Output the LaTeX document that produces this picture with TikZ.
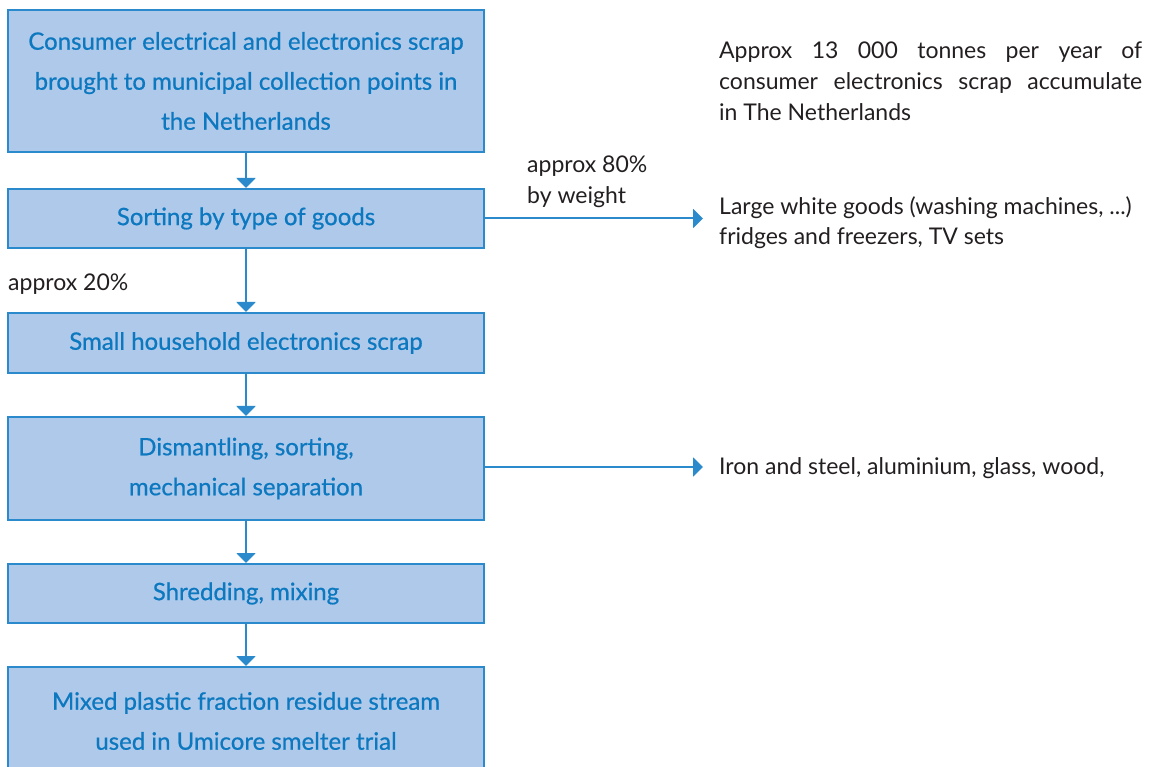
\documentclass[tikz,border=0pt]{standalone}
\usepackage{fontspec}
\setmainfont{Lato}
\newfontfamily\boxfont[FakeBold=0.6]{Lato}
\usetikzlibrary{arrows.meta}
\definecolor{boxfill}{HTML}{AFC9EA}
\definecolor{boxline}{HTML}{2A8ACB}
\definecolor{boxtext}{HTML}{0B78BF}
\definecolor{bodytext}{HTML}{231F20}
\begin{document}
\begin{tikzpicture}[x=1pt,y=-1pt,
  flowbox/.style={draw=boxline, line width=2pt, fill=boxfill, minimum width=476pt,
    inner sep=0pt, text=boxtext, align=center, font=\boxfont\fontsize{24}{40}\selectfont},
  arr/.style={draw=boxline, line width=2pt, -{Triangle[width=19pt,length=10pt]}},
  note/.style={inner sep=0pt, text=bodytext, font=\fontsize{23}{31}\selectfont, anchor=base west}]
\useasboundingbox (0,0) rectangle (1152,767);
\node[flowbox, minimum height=142pt] (b1) at (246,81)
  {Consumer electrical and electronics scrap\\brought to municipal collection points in\\the Netherlands};
\node[flowbox, minimum height=59pt] (b2) at (246,218.5) {Sorting by type of goods};
\node[flowbox, minimum height=60pt] (b3) at (246,343) {Small household electronics scrap};
\node[flowbox, minimum height=103pt] (b4) at (246,468.5) {Dismantling, sorting,\\mechanical separation};
\node[flowbox, minimum height=59pt] (b5) at (246,593.5) {Shredding, mixing};
\node[flowbox, minimum height=108pt] (b6) at (246,721)
  {Mixed plastic fraction residue stream\\used in Umicore smelter trial};
\draw[arr] (b1) -- (b2);
\draw[arr] (b2) -- (b3);
\draw[arr] (b3) -- (b4);
\draw[arr] (b4) -- (b5);
\draw[arr] (b5) -- (b6);
\coordinate (e2) at (703,218.5);
\coordinate (e4) at (703,467);
\draw[arr] (b2.east) -- (e2);
\draw[arr] (b4.east |- e4) -- (e4);
\node[note] (p1) at (719,59) {\makebox[423pt][s]{Approx 13 000 tonnes per year of}};
\node[note] (p2) at (719,90) {\makebox[423pt][s]{consumer electronics scrap accumulate}};
\node[note] (p3) at (719,121) {in The Netherlands};
\node[note] (w1) at (527,173) {approx 80\%};
\node[note] (w2) at (527,204) {by weight};
\node[note] (l1) at (719,215) {Large white goods (washing machines, ...)};
\node[note] (l2) at (719,245) {fridges and freezers, TV sets};
\node[note] (a20) at (8,291) {approx 20\%};
\node[note] (i1) at (719,474) {Iron and steel, aluminium, glass, wood,};
\end{tikzpicture}
\end{document}
